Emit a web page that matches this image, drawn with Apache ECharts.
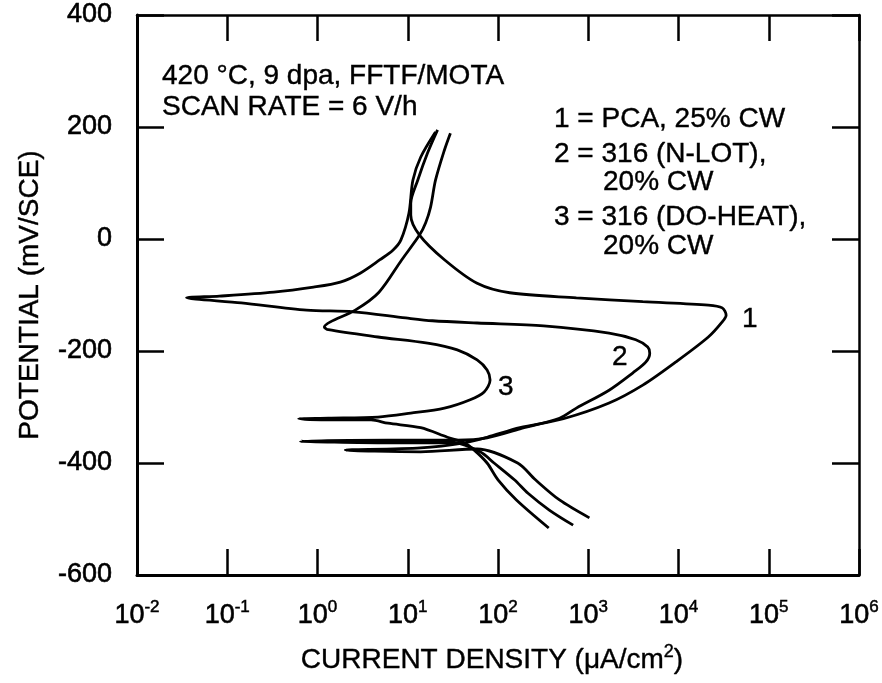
<!DOCTYPE html>
<html>
<head>
<meta charset="utf-8">
<script src="https://cdn.jsdelivr.net/npm/echarts@6/dist/echarts.min.js"></script>
<style>
html,body{margin:0;padding:0;background:#ffffff;}
#chart{width:882px;height:683px;}
</style>
</head>
<body>
<div id="chart"></div>
<script>
// ---------- data ----------
const xExponents = ['-2', '-1', '0', '1', '2', '3', '4', '5', '6'];
const yTickValues = [-600, -400, -200, 0, 200, 400];

const xAxisTitle = 'CURRENT DENSITY (μA/cm';
const xAxisTitleSup = '2';
const yAxisTitle = 'POTENTIAL (mV/SCE)';
const conditionLines = ['420 °C, 9 dpa, FFTF/MOTA', 'SCAN RATE = 6 V/h'];
const keyLines = ['1 = PCA, 25% CW', '2 = 316 (N-LOT),', '20% CW', '3 = 316 (DO-HEAT),', '20% CW'];
const curveNames = ['1', '2', '3'];

// curve 1: PCA, 25% CW  (current density µA/cm², potential mV/SCE)
const pcaCurrent = [1030, 480, 260, 165, 58.7, 13.9, 2.03, 13.9, 42.3, 75.7, 175, 531, 1702, 4020, 9270, 21400, 30500, 33700, 30500, 21400, 4020, 738, 135, 58.7, 25.5, 13.5, 10.8, 10.8, 12.9, 16.6, 21.4];
const pcaPotential = [-498, -466, -430, -400, -375, -380, -377, -373, -364, -354, -337, -321, -293, -261, -220, -175, -148, -136, -123, -118, -112, -105, -96, -79, -37, 7, 43, 64, 105, 154, 195];

// curve 2: 316 (N-LOT), 20% CW
const nlotCurrent = [680, 370, 215, 152, 90.4, 63.4, 32.8, 6.03, 0.65, 6.03, 35.4, 75.7, 175, 480, 738, 1702, 3126, 4335, 4800, 4560, 3365, 1702, 320, 58.7, 18.8, 9.51, 2.49, 0.757, 0.143, 0.0354, 0.0817, 0.328, 0.903, 1.79, 2.97, 4.92, 6.84, 8.38, 10.3, 11.4, 13.9, 20.3];
const nlotPotential = [-511, -484, -454, -430, -400, -380, -364, -364, -361, -359, -359, -355, -339, -320, -302, -270, -239, -220, -204, -193, -180, -168, -155, -150, -146, -141, -130, -127, -114, -105, -102, -95, -86, -77, -61, -37, -20, -2, 46, 105, 146, 191];

// curve 3: 316 (DO-HEAT), 20% CW
const doheatCurrent = [365, 160, 100, 75.7, 54.5, 42.3, 27.5, 13.9, 6.03, 3.92, 1.32, 0.618, 1.32, 4.68, 10.8, 25.5, 49.2, 70.2, 81.7, 75.7, 58.7, 35.4, 16.6, 4.68, 1.32, 1.19, 1.39, 2.62, 4.80, 8.59, 13.5, 15.8, 17.9, 20.3, 25.5, 29.7];
const doheatPotential = [-516, -466, -430, -400, -377, -364, -354, -337, -329, -323, -323, -321, -320, -318, -311, -302, -287, -273, -252, -234, -216, -198, -186, -175, -162, -157, -148, -127, -95, -37, 7, 29, 57, 105, 159, 189];

// ---------- chart ----------
const FONT = '"Liberation Sans", Arial, Helvetica, sans-serif';
const zip = (xs, ys) => xs.map((x, i) => [x, ys[i]]);

const chart = echarts.init(document.getElementById('chart'), null, {renderer: 'canvas'});

const xLabelFormatter = (v) => {
  const e = Math.round(Math.log10(v));
  const idx = xExponents.indexOf(String(e));
  return '{b|10}{s|' + (idx >= 0 ? xExponents[idx] : e) + '}';
};

function curve(name, xs, ys) {
  return {
    name: name,
    type: 'line',
    xAxisIndex: 0,
    yAxisIndex: 0,
    data: zip(xs, ys),
    showSymbol: false,
    symbol: 'none',
    smooth: 0.3,
    lineStyle: {color: '#000', width: 2.8},
    animation: false
  };
}

const txt = (text, x, y, size) => ({
  type: 'text',
  x: x, y: y,
  style: {
    text: text,
    font: size + 'px ' + FONT,
    fill: '#000',
    stroke: '#000',
    lineWidth: 0.4,
    textAlign: 'left',
    textVerticalAlign: 'middle',
    verticalAlign: 'middle'
  }
});

const option = {
  backgroundColor: '#ffffff',
  animation: false,
  grid: {left: 137, right: 17, top: 15, bottom: 108, containLabel: false},
  xAxis: [
    {
      type: 'log', logBase: 10, min: 0.01, max: 1e6, position: 'bottom',
      name: '{a|' + xAxisTitle + '}{s|' + xAxisTitleSup + '}{a|)}',
      nameLocation: 'middle', nameGap: 68,
      nameTextStyle: {
        padding: [0, 12, 0, 0],
        rich: {
          a: {fontFamily: FONT, fontSize: 28, color: '#000', lineHeight: 34, textBorderColor: '#000', textBorderWidth: 0.4},
          s: {fontFamily: FONT, fontSize: 18, color: '#000', lineHeight: 20, verticalAlign: 'top', textBorderColor: '#000', textBorderWidth: 0.4}
        }
      },
      axisLine: {show: true, onZero: false, lineStyle: {color: '#000', width: 3}},
      axisTick: {show: true, inside: true, length: 26, lineStyle: {color: '#000', width: 2.5}},
      axisLabel: {
        show: true, margin: 24, formatter: xLabelFormatter,
        rich: {
          b: {fontFamily: FONT, fontSize: 27, color: '#000', lineHeight: 34, textBorderColor: '#000', textBorderWidth: 0.6},
          s: {fontFamily: FONT, fontSize: 17, color: '#000', lineHeight: 17, verticalAlign: 'top', textBorderColor: '#000', textBorderWidth: 0.5}
        }
      },
      splitLine: {show: false},
      minorTick: {show: false}
    },
    {
      type: 'log', logBase: 10, min: 0.01, max: 1e6, position: 'top',
      axisLine: {show: true, onZero: false, lineStyle: {color: '#000', width: 2.5}},
      axisTick: {show: true, inside: true, length: 26, lineStyle: {color: '#000', width: 2.5}},
      axisLabel: {show: false},
      splitLine: {show: false}
    }
  ],
  yAxis: [
    {
      type: 'value', min: yTickValues[0], max: yTickValues[yTickValues.length - 1], interval: 200,
      position: 'left',
      name: yAxisTitle, nameLocation: 'middle', nameGap: 93, nameRotate: 90,
      nameTextStyle: {fontFamily: FONT, fontSize: 28, color: '#000', textBorderColor: '#000', textBorderWidth: 0.4},
      axisLine: {show: true, onZero: false, lineStyle: {color: '#000', width: 3}},
      axisTick: {show: true, inside: true, length: 27, lineStyle: {color: '#000', width: 2.5}},
      axisLabel: {show: true, margin: 25, fontFamily: FONT, fontSize: 27, color: '#000', textBorderColor: '#000', textBorderWidth: 0.6},
      splitLine: {show: false}
    },
    {
      type: 'value', min: yTickValues[0], max: yTickValues[yTickValues.length - 1], interval: 200,
      position: 'right',
      axisLine: {show: true, onZero: false, lineStyle: {color: '#000', width: 2.5}},
      axisTick: {show: true, inside: true, length: 27, lineStyle: {color: '#000', width: 2.5}},
      axisLabel: {show: false},
      splitLine: {show: false}
    }
  ],
  series: [
    curve(keyLines[0], pcaCurrent, pcaPotential),
    curve(keyLines[1] + ' ' + keyLines[2], nlotCurrent, nlotPotential),
    curve(keyLines[3] + ' ' + keyLines[4], doheatCurrent, doheatPotential)
  ],
  graphic: [
    txt(conditionLines[0], 162, 76, 28),
    txt(conditionLines[1], 162, 107, 28),
    txt(keyLines[0], 554, 119, 28),
    txt(keyLines[1], 554, 154, 28),
    txt(keyLines[2], 603, 182, 28),
    txt(keyLines[3], 554, 217, 28),
    txt(keyLines[4], 603, 246, 28),
    txt(curveNames[0], 742, 319, 28),
    txt(curveNames[1], 612, 357, 28),
    txt(curveNames[2], 498, 387, 28)
  ]
};

chart.setOption(option);
</script>
</body>
</html>
